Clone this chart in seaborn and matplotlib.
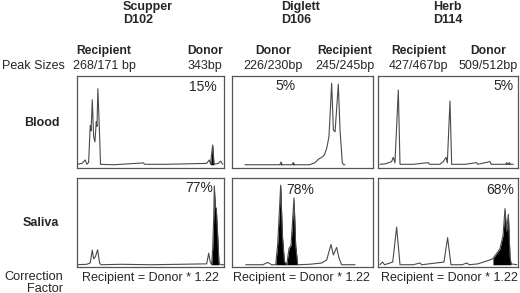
import matplotlib
matplotlib.use('Agg')
import numpy as np
import pandas as pd
import seaborn as sns
from matplotlib import pyplot as plt

sns.set_style('white')
plt.rcParams['font.family'] = ['Liberation Sans', 'DejaVu Sans']

W, H = 520, 293

dogs = ['Scupper', 'Diglett', 'Herb']
dog_ids = ['D102', 'D106', 'D114']
left_names = ['Recipient', 'Donor', 'Recipient']
left_sizes = ['268/171 bp', '226/230bp', '427/467bp']
right_names = ['Donor', 'Recipient', 'Donor']
right_sizes = ['343bp', '245/245bp', '509/512bp']
blood_pct = ['15%', '5%', '5%']
saliva_pct = ['77%', '78%', '68%']
correction = 'Recipient = Donor * 1.22'

# traces, x = % of panel width, y = % of panel height
scupper_blood_x = [0, 3.4, 5.6, 6.7, 7.9, 9.0, 9.6, 10.4, 11.3, 12.2, 13.1, 13.6, 14.2, 15.4, 16.0,
                   25, 35, 45.2, 46, 60, 75, 88.2, 90.0, 90.9, 91.6, 92.3, 93.2, 96.1, 97.7, 99.1]
scupper_blood_y = [3.5, 4.5, 8.2, 3.5, 5.5, 46, 40, 74, 34, 28, 50, 45, 86, 34, 3.5,
                   3, 4, 5, 3.5, 3.5, 4, 4.5, 8.2, 3.5, 15.5, 24.6, 3.5, 4.5, 6.9, 3.5]
scupper_blood_fill = [(90.9, 93.2)]

scupper_saliva_x = [0, 6.7, 9.0, 10.4, 11.3, 12.5, 14.0, 15.4, 16.3, 30, 50, 70, 88.2, 89.6, 90.5,
                    91.6, 92.3, 93.0, 93.4, 94.1, 94.8, 95.7, 96.6, 98.4, 100]
scupper_saliva_y = [2, 2.5, 4, 18.6, 8.7, 11, 18.9, 4, 2, 2.5, 2, 2.5, 3, 15, 6,
                    2, 20, 55, 91, 68, 64.6, 35, 3, 2, 2]
scupper_saliva_fill = [(91.6, 96.6)]

diglett_blood_x = [9.4, 25, 34.0, 34.8, 35.6, 42.7, 43.5, 44.3, 55, 58.8, 61.2, 63.5, 65.4, 67.1,
                   68.7, 70.6, 71.8, 73, 75.3, 76.5, 78.1, 79.0, 80]
diglett_blood_y = [3, 3, 3, 6, 3, 3, 5.5, 3, 3, 5.3, 9, 11, 13.7, 21,
                   33.7, 92, 41, 39, 91, 41, 5.3, 3, 3]
diglett_blood_fill = [(34.0, 35.6), (42.7, 44.3)]

diglett_saliva_x = [9.9, 22, 25.4, 28.2, 31.1, 32.5, 34.6, 35.8, 37.2, 38.8, 40.5, 41.9, 44.0, 45.2,
                    46.6, 55, 63.5, 67.1, 70.1, 71.8, 74.1, 75.8, 77.6, 87.1]
diglett_saliva_y = [2, 2, 4.6, 2, 2, 26, 92, 35, 5.7, 2, 20.4, 24, 77.5, 24,
                    2, 2.5, 3.9, 7.5, 24.9, 13, 21.5, 9.4, 2, 2]
diglett_saliva_fill = [(31.1, 46.6)]

herb_blood_x = [1.2, 5, 9.5, 10.7, 11.9, 14.3, 15.5, 25, 35.7, 36.5, 44, 46.4, 48.4, 49.3, 51.2,
                52.4, 62, 70.2, 71, 79.8, 80.6, 90.8, 91.7, 92.6, 93.6, 94.4, 96.4]
herb_blood_y = [3.5, 4, 6.4, 11.1, 5, 84.7, 3.5, 3.5, 5.3, 3.5, 3.5, 6.4, 11.1, 5, 72.7,
                3.5, 3.5, 5.3, 3.5, 6.4, 3.5, 3.5, 5.3, 3.5, 5.3, 3.5, 3.5]
herb_blood_fill = [(90.8, 94.4)]

herb_saliva_x = [1.2, 3, 4.5, 10.3, 13.1, 15.5, 25, 29.8, 31, 46.9, 49.5, 51.9, 60, 63.1, 65,
                 71.2, 79.8, 81.9, 86.9, 89.1, 90.5, 91.6, 92.9, 94.1, 94.9, 98.9]
herb_saliva_y = [2, 5, 2, 5, 44.4, 2, 2, 4, 2, 5, 32.6, 2, 2, 4, 2,
                 3, 7.5, 9, 20, 35, 65.4, 40, 59, 10, 3, 2]
herb_saliva_fill = [(81.9, 94.9)]

blood_traces = [(scupper_blood_x, scupper_blood_y, scupper_blood_fill),
                (diglett_blood_x, diglett_blood_y, diglett_blood_fill),
                (herb_blood_x, herb_blood_y, herb_blood_fill)]
saliva_traces = [(scupper_saliva_x, scupper_saliva_y, scupper_saliva_fill),
                 (diglett_saliva_x, diglett_saliva_y, diglett_saliva_fill),
                 (herb_saliva_x, herb_saliva_y, herb_saliva_fill)]

# layout in pixels
col_left = [77, 231.7, 378.3]
col_width = [147, 141.6, 140]
row_top = [76, 178]
row_height = [91.5, 88.5]

fig = plt.figure(figsize=(W / 100, H / 100), dpi=100)


def txt(x, y, s, **kw):
    # y is the text baseline, in pixels from the top
    kw.setdefault('ha', 'center')
    kw.setdefault('va', 'baseline')
    fig.text(x / W, 1 - y / H, s, **kw)


def draw_panel(col, row, trace, pct, pct_xy):
    x0, w = col_left[col], col_width[col]
    y0, h = row_top[row], row_height[row]
    ax = fig.add_axes([x0 / W, 1 - (y0 + h) / H, w / W, h / H])
    xs, ys, fills = trace
    df = pd.DataFrame({'x': xs, 'y': ys})
    sns.lineplot(data=df, x='x', y='y', ax=ax, color='#4a4a4a', lw=0.8,
                 estimator=None, sort=False)
    base = min(ys)
    xa, ya = np.array(xs), np.array(ys)
    for lo, hi in fills:
        ax.fill_between(xa, base, ya, where=(xa >= lo) & (xa <= hi), color='black', lw=0)
    ax.set_xlim(0, 100)
    ax.set_ylim(0, 100)
    ax.set_xticks([])
    ax.set_yticks([])
    ax.set_xlabel('')
    ax.set_ylabel('')
    for sp in ax.spines.values():
        sp.set_color('#555555')
        sp.set_linewidth(0.9)
    txt(pct_xy[0], pct_xy[1], pct, fontsize=10)


blood_pct_xy = [(202.5, 90.7), (285.8, 89.5), (503, 90)]
saliva_pct_xy = [(198.8, 191.7), (299.7, 194), (500, 194)]
for i in range(3):
    draw_panel(i, 0, blood_traces[i], blood_pct[i], blood_pct_xy[i])
    draw_panel(i, 1, saliva_traces[i], saliva_pct[i], saliva_pct_xy[i])

# column headers
head_left = [122.7, 280.7, 432.7]
for i in range(3):
    txt(head_left[i], 10, dogs[i], ha='left', fontsize=9, fontweight='bold')
    txt(head_left[i], 22.7, dog_ids[i], ha='left', fontsize=9, fontweight='bold')

left_cx = [104, 273.5, 418.7]
right_cx = [205, 345, 488.3]
for i in range(3):
    txt(left_cx[i], 54, left_names[i], fontsize=8.7, fontweight='bold')
    txt(left_cx[i], 69, left_sizes[i], fontsize=9)
    txt(right_cx[i], 54, right_names[i], fontsize=8.7, fontweight='bold')
    txt(right_cx[i], 69, right_sizes[i], fontsize=9)

txt(1.7, 69, 'Peak Sizes', ha='left', fontsize=9)
txt(42, 126.5, 'Blood', fontsize=9, fontweight='bold')
txt(41, 226.5, 'Saliva', fontsize=9, fontweight='bold')
txt(63.3, 279.5, 'Correction', ha='right', fontsize=9.2)
txt(63.3, 291.5, 'Factor', ha='right', fontsize=9.2)

corr_cx = [150.8, 301.7, 449]
for i in range(3):
    txt(corr_cx[i], 281, correction, fontsize=9)

fig.savefig('out.png', dpi=100)
